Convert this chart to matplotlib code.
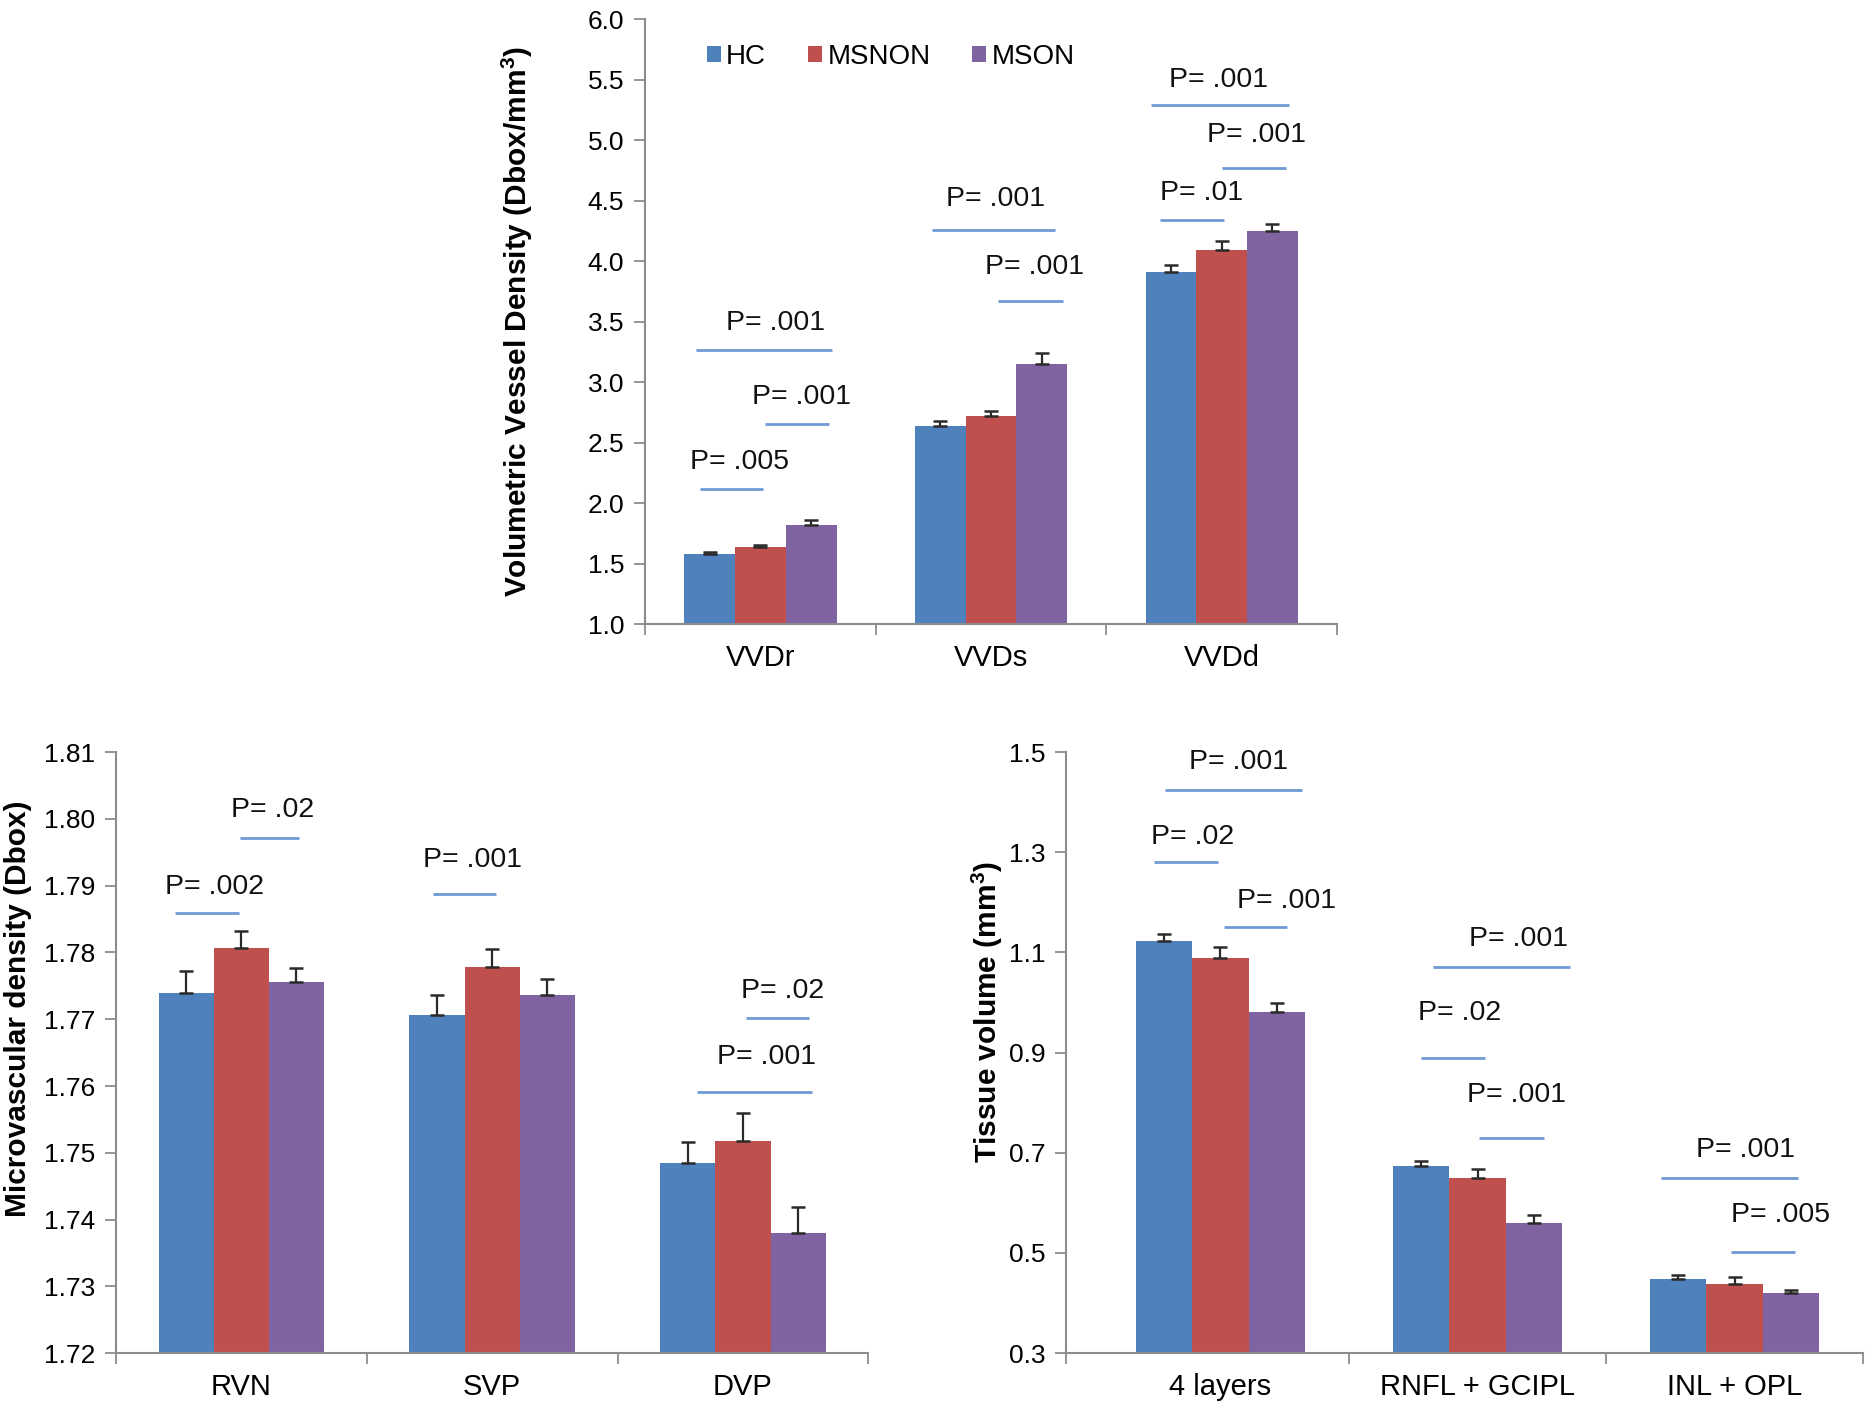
import numpy as np
import matplotlib
matplotlib.use("Agg")
import matplotlib.pyplot as plt
from matplotlib.patches import Patch

plt.rcParams['font.family'] = ['Liberation Sans', 'DejaVu Sans']

# ---------------- data ----------------
groups = ["HC", "MSNON", "MSON"]
colors = ["#4F81BD", "#C0504D", "#8064A2"]

# top: volumetric vessel density
vvd_cats = ["VVDr", "VVDs", "VVDd"]
vvd_hc = [1.58, 2.64, 3.91]
vvd_msnon = [1.64, 2.72, 4.09]
vvd_mson = [1.82, 3.15, 4.25]
vvd_hc_err = [0.02, 0.04, 0.06]
vvd_msnon_err = [0.02, 0.04, 0.08]
vvd_mson_err = [0.04, 0.09, 0.06]

# bottom left: microvascular density
mvd_cats = ["RVN", "SVP", "DVP"]
mvd_hc = [1.7739, 1.7707, 1.7485]
mvd_msnon = [1.7807, 1.7778, 1.7518]
mvd_mson = [1.7756, 1.7737, 1.7380]
mvd_hc_err = [0.0033, 0.0029, 0.0031]
mvd_msnon_err = [0.0025, 0.0027, 0.0041]
mvd_mson_err = [0.0021, 0.0023, 0.0039]

# bottom right: tissue volume
tv_cats = ["4 layers", "RNFL + GCIPL", "INL + OPL"]
tv_hc = [1.123, 0.673, 0.4485]
tv_msnon = [1.088, 0.650, 0.437]
tv_mson = [0.982, 0.560, 0.420]
tv_hc_err = [0.013, 0.010, 0.007]
tv_msnon_err = [0.022, 0.017, 0.014]
tv_mson_err = [0.017, 0.015, 0.005]

# significance brackets: (category, x0, x1, line y, label, text x, text y)
vvd_sig = [
    (0, -0.262, 0.012, 2.118, "P= .005", -0.09, 2.34),
    (0, 0.019, 0.296, 2.654, "P= .001", 0.18, 2.88),
    (0, -0.279, 0.311, 3.268, "P= .001", 0.065, 3.49),
    (1, -0.257, 0.279, 4.26, "P= .001", 0.02, 4.51),
    (1, 0.032, 0.311, 3.67, "P= .001", 0.19, 3.95),
    (2, -0.267, 0.01, 4.34, "P= .01", -0.087, 4.56),
    (2, -0.306, 0.294, 5.29, "P= .001", -0.015, 5.50),
    (2, 0.002, 0.28, 4.77, "P= .001", 0.15, 5.04),
]
mvd_sig = [
    (0, -0.264, -0.011, 1.7859, "P= .002", -0.108, 1.7898),
    (0, -0.005, 0.23, 1.7972, "P= .02", 0.126, 1.8014),
    (1, -0.237, 0.016, 1.7887, "P= .001", -0.08, 1.7938),
    (2, 0.011, 0.264, 1.7702, "P= .02", 0.156, 1.7743),
    (2, -0.184, 0.276, 1.7591, "P= .001", 0.092, 1.7644),
]
tv_sig = [
    (0, -0.214, 0.318, 1.4248, "P= .001", 0.07, 1.48),
    (0, -0.259, -0.011, 1.2806, "P= .02", -0.107, 1.331),
    (0, 0.014, 0.261, 1.1504, "P= .001", 0.257, 1.2028),
    (1, -0.175, 0.359, 1.0717, "P= .001", 0.159, 1.126),
    (1, -0.22, 0.03, 0.89, "P= .02", -0.068, 0.979),
    (1, 0.007, 0.257, 0.730, "P= .001", 0.15, 0.8157),
    (2, -0.286, 0.248, 0.6487, "P= .001", 0.043, 0.7047),
    (2, -0.014, 0.236, 0.5028, "P= .005", 0.18, 0.5753),
]

AXIS_GREY = "#8C8C8C"
SIG_BLUE = "#6F9AD6"
BAR_W = 0.22


def draw_panel(ax, cats, vals, errs, sig, ylim, yticks, fmt, ylabel,
               tick_fs, cat_fs, label_x, label_y, xmin=-0.5):
    x = np.arange(len(cats))
    for k, (v, e) in enumerate(zip(vals, errs)):
        pos = x + (k - 1) * BAR_W
        ax.bar(pos, v, width=BAR_W, color=colors[k], zorder=2)
        ax.errorbar(pos, v, yerr=[np.zeros(len(e)), e], fmt="none",
                    ecolor="#2A2A2A", elinewidth=1.6, capsize=5,
                    capthick=1.8, zorder=3)

    for c, x0, x1, ly, txt, tx, ty in sig:
        ax.plot([c + x0, c + x1], [ly, ly], color=SIG_BLUE, lw=2.0,
                solid_capstyle="butt", zorder=4)
        ax.text(c + tx, ty, txt, ha="center", va="center", fontsize=20.5,
                color="#111111")

    xmax = len(cats) - 0.5
    ax.set_xlim(xmin, xmax)
    ax.set_ylim(*ylim)
    ax.set_yticks(yticks)
    ax.set_yticklabels([fmt.format(t) for t in yticks], fontsize=tick_fs)
    ax.set_xticks(x)
    ax.set_xticklabels(cats, fontsize=cat_fs)
    ax.set_xticks([xmin] + list(np.arange(1, len(cats) + 1) - 0.5),
                  minor=True)
    ax.tick_params(axis="x", which="major", length=0, pad=14)
    ax.tick_params(axis="x", which="minor", length=8, width=1.3,
                   color=AXIS_GREY)
    ax.tick_params(axis="y", length=8, width=1.3, color=AXIS_GREY, pad=7)

    for s in ["top", "right"]:
        ax.spines[s].set_visible(False)
    for s in ["left", "bottom"]:
        ax.spines[s].set_color(AXIS_GREY)
        ax.spines[s].set_linewidth(1.5)

    ax.set_ylabel(ylabel, fontsize=21.5, fontweight="bold")
    ax.yaxis.set_label_coords(label_x, label_y)


fig = plt.figure(figsize=(18.72, 14.08), dpi=100)

ax_top = fig.add_axes([0.3446, 0.5565, 0.3696, 0.4300])
ax_bl = fig.add_axes([0.0619, 0.0390, 0.4020, 0.4268])
ax_br = fig.add_axes([0.5695, 0.0390, 0.4258, 0.4268])

draw_panel(ax_top, vvd_cats,
           [vvd_hc, vvd_msnon, vvd_mson],
           [vvd_hc_err, vvd_msnon_err, vvd_mson_err],
           vvd_sig, (1.0, 6.0), np.arange(1.0, 6.01, 0.5), "{:.1f}",
           "Volumetric Vessel Density (Dbox/mm$^\\mathregular{3}$)",
           19, 21, -0.159, 0.5)

draw_panel(ax_bl, mvd_cats,
           [mvd_hc, mvd_msnon, mvd_mson],
           [mvd_hc_err, mvd_msnon_err, mvd_mson_err],
           mvd_sig, (1.72, 1.81), np.linspace(1.72, 1.81, 10), "{:.2f}",
           "Microvascular density (Dbox)",
           19, 21, -0.112, 0.573)

draw_panel(ax_br, tv_cats,
           [tv_hc, tv_msnon, tv_mson],
           [tv_hc_err, tv_msnon_err, tv_mson_err],
           tv_sig, (0.3, 1.5), np.arange(0.3, 1.51, 0.2), "{:.1f}",
           "Tissue volume (mm$^\\mathregular{3}$)",
           19, 21, -0.077, 0.567, xmin=-0.6)

handles = [Patch(facecolor=c, edgecolor="none") for c in colors]
ax_top.legend(handles, groups, loc="center", bbox_to_anchor=(0.355, 0.937),
              ncol=3, frameon=False, fontsize=20, handlelength=0.5,
              handleheight=0.5, handletextpad=0.2, columnspacing=1.5)

fig.savefig("out.png", dpi=100)
